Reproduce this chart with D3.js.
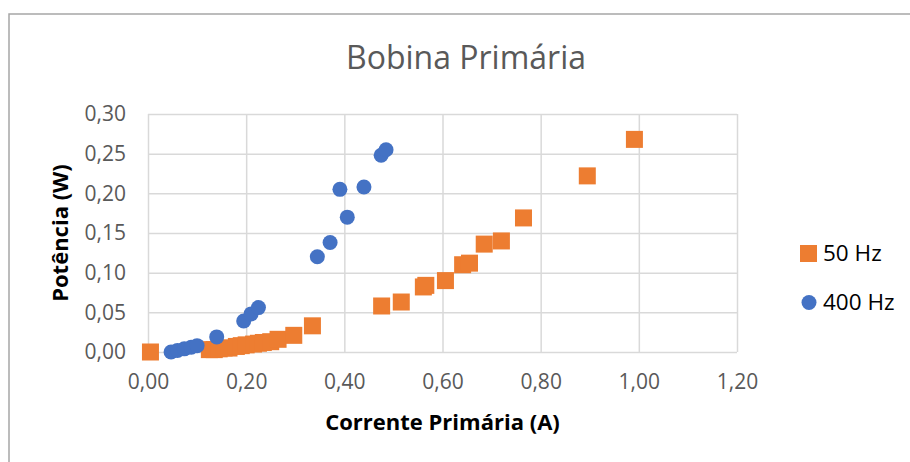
<!DOCTYPE html>
<html>
<head>
<meta charset="utf-8">
<script src="https://cdn.jsdelivr.net/npm/d3@7"></script>
<style>
  body { margin: 0; background: #fff; }
  text { font-family: "Open Sans", sans-serif; }
</style>
</head>
<body>
<svg id="chart" width="910" height="462"></svg>
<script>
// 50 Hz series
const current50 = [0.005, 0.125, 0.135, 0.145, 0.155, 0.165, 0.180, 0.190, 0.200, 0.215, 0.225, 0.235, 0.250, 0.265,
    0.297, 0.335, 0.476, 0.516, 0.561, 0.566, 0.606, 0.641, 0.655, 0.685, 0.720, 0.765, 0.895, 0.991];
const power50 = [0.000, 0.003, 0.003, 0.004, 0.005, 0.005, 0.007, 0.008, 0.009, 0.010, 0.011, 0.012, 0.013, 0.016,
    0.021, 0.033, 0.058, 0.063, 0.082, 0.084, 0.090, 0.110, 0.112, 0.136, 0.140, 0.169, 0.222, 0.268];

// 400 Hz series
const current400 = [0.047, 0.060, 0.074, 0.088, 0.100, 0.140, 0.195, 0.210, 0.225, 0.345, 0.371, 0.391, 0.406, 0.440, 0.475, 0.485];
const power400 = [0.000, 0.002, 0.004, 0.006, 0.008, 0.019, 0.039, 0.048, 0.056, 0.120, 0.138, 0.205, 0.170, 0.208, 0.248, 0.255];

const xTicks = [0, 0.2, 0.4, 0.6, 0.8, 1.0, 1.2];
const yTicks = [0, 0.05, 0.10, 0.15, 0.20, 0.25, 0.30];

const seriesNames = ["50 Hz", "400 Hz"];
const colors = ["#ED7D31", "#4472C4"];

const svg = d3.select("#chart");
const margin = { top: 114, left: 148, right: 173, bottom: 110 };
const width = 910 - margin.left - margin.right;
const height = 462 - margin.top - margin.bottom;

const fmt = d => d3.format(".2f")(d).replace(".", ",");

// chart frame
svg.append("rect")
    .attr("x", 9).attr("y", 14)
    .attr("width", 930).attr("height", 480)
    .attr("fill", "#fff")
    .attr("stroke", "#a6a6a6")
    .attr("stroke-width", 1.5);

svg.append("text")
    .attr("x", 466).attr("y", 69)
    .attr("text-anchor", "middle")
    .attr("font-size", 32)
    .attr("fill", "#595959")
    .text("Bobina Primária");

const x = d3.scaleLinear().domain([0, 1.2]).range([0, width]);
const y = d3.scaleLinear().domain([0, 0.30]).range([height, 0]);

const g = svg.append("g").attr("transform", `translate(${margin.left},${margin.top})`);

// gridlines via axes
g.append("g")
    .attr("transform", `translate(0,${height})`)
    .call(d3.axisBottom(x).tickValues(xTicks).tickSize(-height).tickFormat(fmt).tickPadding(22))
    .call(a => a.select(".domain").remove())
    .call(a => a.selectAll("line").attr("stroke", "#d9d9d9").attr("stroke-width", 1.5))
    .call(a => a.selectAll("text").attr("font-size", 21).attr("fill", "#595959").attr("font-family", "Open Sans"));

g.append("g")
    .call(d3.axisLeft(y).tickValues(yTicks).tickSize(-width).tickFormat(fmt).tickPadding(22))
    .call(a => a.select(".domain").remove())
    .call(a => a.selectAll("line").attr("stroke", "#d9d9d9").attr("stroke-width", 1.5))
    .call(a => a.selectAll("text").attr("font-size", 21).attr("fill", "#595959").attr("font-family", "Open Sans"));

// axis titles
svg.append("text")
    .attr("x", margin.left + width / 2).attr("y", 430)
    .attr("text-anchor", "middle")
    .attr("font-size", 22).attr("font-weight", "bold")
    .text("Corrente Primária (A)");

svg.append("text")
    .attr("transform", `translate(68,${margin.top + height / 2}) rotate(-90)`)
    .attr("text-anchor", "middle")
    .attr("font-size", 22).attr("font-weight", "bold")
    .text("Potência (W)");

// markers
const data50 = current50.map((c, i) => ({ c, p: power50[i] }));
const data400 = current400.map((c, i) => ({ c, p: power400[i] }));

const sq = 17;
g.append("g").selectAll("rect")
    .data(data50)
    .join("rect")
    .attr("x", d => x(d.c) - sq / 2)
    .attr("y", d => y(d.p) - sq / 2)
    .attr("width", sq).attr("height", sq)
    .attr("fill", colors[0]);

g.append("g").selectAll("circle")
    .data(data400)
    .join("circle")
    .attr("cx", d => x(d.c))
    .attr("cy", d => y(d.p))
    .attr("r", 7.5)
    .attr("fill", colors[1]);

// legend
const legend = svg.append("g");
legend.append("rect")
    .attr("x", 800).attr("y", 245).attr("width", 17).attr("height", 17)
    .attr("fill", colors[0]);
legend.append("circle")
    .attr("cx", 809).attr("cy", 302.5).attr("r", 7.5)
    .attr("fill", colors[1]);
legend.selectAll("text")
    .data(seriesNames)
    .join("text")
    .attr("x", 823)
    .attr("y", (d, i) => 261 + i * 49)
    .attr("font-size", 22.5)
    .attr("fill", "#000")
    .text(d => d);
</script>
</body>
</html>
